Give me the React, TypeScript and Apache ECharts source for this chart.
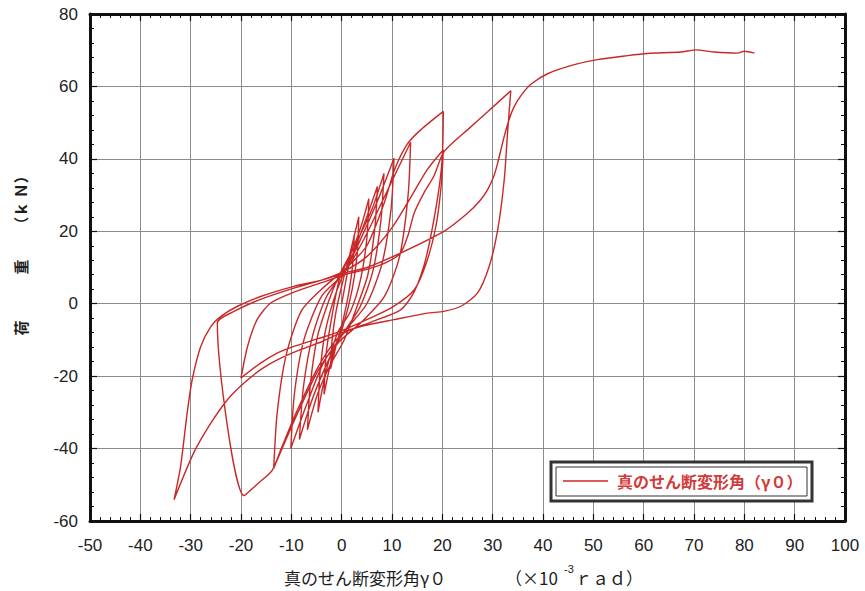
import React, { useEffect, useRef } from "react";
import * as echarts from "echarts";

// Axis ranges and tick labels
const xRange = [-50, 100];
const yRange = [-60, 80];
const xTickStep = 10;
const yTickStep = 20;

const seriesName = "真のせん断変形角（γ０）";
const xTitleMain = "真のせん断変形角γ０";
const xTitleUnit = "（×10";
const xTitleExp = "-3";
const xTitleTail = "ｒａｄ）";
const yTitleLoad = ["荷", "重"];
const yTitleUnit = "（ｋ Ｎ）";

// Hysteresis record: shear angle γ0 (×10^-3 rad) vs load (kN), in loading order
const cycle2: number[][] = [
  [0, 0], [1.2, 9], [2.5, 19], [2.2, 11], [1.4, 3], [0.2, -5], [-1.0, -11], [-2.2, -18],
  [-1.9, -10], [-1.1, -2], [0.2, 6],
];
const cycle3: number[][] = [
  [1.5, 13], [3.4, 24], [3.1, 14], [2.1, 4], [0.3, -6], [-1.6, -13], [-3.5, -25],
  [-3.1, -14], [-2.0, -4], [-0.4, 7],
];
const cycle5: number[][] = [
  [2.2, 15], [4.0, 22], [5.4, 29], [5.0, 18], [3.8, 7], [1.8, -2], [-0.8, -8], [-2.6, -16],
  [-3.9, -24], [-4.7, -30], [-4.3, -19], [-3.3, -8], [-1.6, 1], [0.3, 8],
];
const cycle7: number[][] = [
  [2.6, 15], [5.0, 24], [7.1, 32.4], [6.6, 21], [5.2, 8], [3.0, -1], [0.5, -10], [-2.3, -17],
  [-4.8, -25], [-6.8, -34.8], [-6.2, -22], [-4.8, -9], [-2.5, 1], [-0.6, 7.5],
];
const cycle8: number[][] = [
  [2.6, 16], [6.0, 26], [8.4, 36], [7.8, 23], [6.2, 9], [3.6, -1], [-1.0, -11], [-3.4, -18],
  [-6.0, -27], [-8.4, -37.5], [-7.6, -23], [-5.8, -9], [-3.0, 2], [0.8, 9.5],
];
const cycle10: number[][] = [
  [3.5, 17], [7.0, 28], [10.4, 40.2], [9.8, 26], [8.0, 11], [5.0, 0], [1.0, -7], [-3.5, -16],
  [-7.0, -28], [-10.1, -40], [-9.4, -25], [-7.5, -10], [-4.0, 2], [0.5, 8.5],
];
const cycle13: number[][] = [
  [4.5, 18], [9.0, 31], [13.7, 44.6], [13.2, 30], [11.5, 13], [8.5, 2], [4.0, -5], [-0.5, -10.5],
  [-4.5, -18], [-9.0, -31], [-13.5, -45.4], [-12.8, -30], [-11.0, -14], [-8.0, -2], [-4.0, 4],
  [1.0, 10],
];
const cycle20a: number[][] = [
  [5.0, 16], [8.5, 28], [10.5, 37], [13.0, 44], [15.7, 48], [20.2, 53.1], [20.0, 40.7],
  [19.3, 31.5], [17.7, 18.6], [16.3, 10.3], [14.3, 3], [11.7, -1.7], [6.0, -5], [0.0, -8.5],
  [-4.5, -17], [-9.0, -30], [-12.0, -40], [-13.8, -46], [-16.5, -49.5], [-19.4, -53],
  [-24.7, -5.3],
];
const cycle20b: number[][] = [
  [-21.5, -2.2], [-16.5, 1], [-9.5, 4.3], [-4.0, 6.5], [0.5, 9], [5.0, 13], [10.0, 21],
  [14.0, 30], [17.0, 37], [20.2, 42.5], [19.8, 33], [18.8, 22], [17.0, 12], [14.5, 4],
  [10.0, -1], [4.0, -5], [-1.0, -8], [-5.0, -9.8], [-9.5, -11.8], [-13.0, -13.8],
  [-16.1, -16.4], [-20.0, -20.5],
];
const cycle33: number[][] = [
  [-18.7, -11.8], [-16.8, -4.4], [-14.1, 0.2], [-9.5, 3.2], [-4.0, 5.8], [0.5, 8], [5.0, 9.5],
  [9.0, 11.5], [11.7, 14], [13.2, 19], [14.4, 25], [16.5, 31], [18.3, 35.2], [20.2, 41.7],
  [22.5, 45], [25.0, 48], [29.0, 53], [33.6, 58.8], [33.0, 48], [32.3, 34.3], [31.0, 20.4],
  [29.3, 10.3], [27.0, 3], [23.7, -0.7], [20.3, -2.1], [17.0, -2.6], [10.4, -4.4],
  [3.8, -6.3], [0.0, -8], [-4.0, -10.5], [-8.2, -12.7], [-12.8, -15.5], [-16.1, -18.2],
  [-19.4, -21.9], [-22.7, -26.5], [-26.0, -33], [-29.4, -41.2], [-33.3, -54.1],
];
const finalPush: number[][] = [
  [-32.0, -44.9], [-30.7, -30.2], [-29.7, -21], [-28.0, -11.8], [-26.0, -6.3], [-24.0, -3.5],
  [-20.7, -0.7], [-16.1, 2], [-9.5, 4.8], [-4.0, 6.5], [0.5, 8.5], [5.0, 10], [11.7, 14],
  [20.3, 20], [25.0, 25], [27.5, 28.5], [29.0, 31.5], [30.3, 35.5], [31.0, 38.9],
  [32.3, 46.2], [33.3, 51], [34.3, 54.5], [35.8, 57.8], [37.6, 60.6], [40.9, 63.5], [46.2, 66],
  [50.8, 67.4], [56.8, 68.5], [60.8, 69.1], [67.4, 69.5], [70.4, 70.1], [74.0, 69.5],
  [78.7, 69.2], [80.0, 69.7], [82.0, 69.2],
];

const trace = [
  ...cycle2, ...cycle3, ...cycle5, ...cycle7, ...cycle8, ...cycle10, ...cycle13,
  ...cycle20a, ...cycle20b, ...cycle33, ...finalPush,
];

const LINE_RED = "#c92828";
const TEXT_RED = "#d23a3a";
const INK = "#1c1c1c";
const LATIN = "'Liberation Sans', Arial, sans-serif";
const CJK = "'Noto Sans CJK JP', 'Noto Sans', sans-serif";

const frameAxis = (extra: any) => ({
  type: "value",
  axisLine: { show: true, onZero: false, lineStyle: { color: "#111", width: 3 } },
  axisTick: { show: true, inside: true, length: 7, lineStyle: { color: "#111", width: 1.2 } },
  minorTick: { show: true, splitNumber: 5, length: 4, lineStyle: { color: "#111", width: 1 } },
  ...extra,
});

const textStyle = (text: string, fontSize: number, family: string, weight = "normal") => ({
  text,
  fill: INK,
  fontSize,
  fontWeight: weight,
  fontFamily: family,
  align: "left",
  verticalAlign: "middle",
  textAlign: "left",
  textVerticalAlign: "middle",
});

const rotatedTitle = (text: string, y: number) => ({
  type: "text",
  x: 20,
  y,
  rotation: Math.PI / 2,
  style: {
    ...textStyle(text, 15, CJK, "bold"),
    align: "center",
    textAlign: "center",
  },
});

export default function App() {
  const ref = useRef<HTMLDivElement>(null);

  useEffect(() => {
    document.body.style.margin = "0";
    if (!ref.current) return;
    const chart = echarts.init(ref.current, undefined, { renderer: "svg" });

    const labelStyle = { color: "#222", fontSize: 17, fontFamily: LATIN };

    chart.setOption({
      animation: false,
      backgroundColor: "#ffffff",
      grid: { left: 90, right: 20, top: 14, bottom: 70 },
      xAxis: [
        frameAxis({
          position: "bottom",
          min: xRange[0],
          max: xRange[1],
          interval: xTickStep,
          splitLine: { show: true, lineStyle: { color: "#8c8c8c", width: 1 } },
          axisLabel: { ...labelStyle, margin: 16 },
        }),
        frameAxis({
          position: "top",
          min: xRange[0],
          max: xRange[1],
          interval: xTickStep,
          splitLine: { show: false },
          axisLabel: { show: false },
        }),
      ],
      yAxis: [
        frameAxis({
          position: "left",
          min: yRange[0],
          max: yRange[1],
          interval: yTickStep,
          splitLine: { show: true, lineStyle: { color: "#8c8c8c", width: 1 } },
          axisLabel: { ...labelStyle, margin: 12 },
        }),
        frameAxis({
          position: "right",
          min: yRange[0],
          max: yRange[1],
          interval: yTickStep,
          splitLine: { show: false },
          axisLabel: { show: false },
        }),
      ],
      legend: {
        left: 563,
        top: 473,
        z: 10,
        icon: "rect",
        itemWidth: 45,
        itemHeight: 1.5,
        padding: 0,
        textStyle: {
          color: TEXT_RED,
          fontSize: 16,
          fontWeight: "bold",
          fontFamily: CJK,
          padding: [0, 0, 0, 4],
        },
        data: [{ name: seriesName }],
      },
      series: [
        {
          name: seriesName,
          type: "line",
          xAxisIndex: 0,
          yAxisIndex: 0,
          data: trace,
          symbol: "none",
          smooth: 0.25,
          lineStyle: { color: LINE_RED, width: 1.4 },
          itemStyle: { color: LINE_RED },
        },
      ],
      graphic: [
        // legend frame (double border)
        {
          type: "rect",
          z: 8,
          shape: { x: 551, y: 462, width: 261, height: 39 },
          style: { fill: "#ffffff", stroke: "#333", lineWidth: 3 },
        },
        {
          type: "rect",
          z: 9,
          shape: { x: 556, y: 467, width: 251, height: 29 },
          style: { fill: "none", stroke: "#333", lineWidth: 1 },
        },
        // y-axis title, read bottom to top
        rotatedTitle(yTitleLoad[0], 328),
        rotatedTitle(yTitleLoad[1], 267),
        rotatedTitle(yTitleUnit, 200),
        // x-axis title
        { type: "text", x: 284, y: 577, style: textStyle(xTitleMain, 17, CJK) },
        { type: "text", x: 505, y: 577, style: textStyle(xTitleUnit, 17, CJK) },
        { type: "text", x: 564, y: 569, style: textStyle(xTitleExp, 11, LATIN) },
        { type: "text", x: 575, y: 577, style: textStyle(xTitleTail, 17, CJK) },
      ],
    });

    return () => chart.dispose();
  }, []);

  return <div ref={ref} style={{ width: 865, height: 591 }} />;
}
